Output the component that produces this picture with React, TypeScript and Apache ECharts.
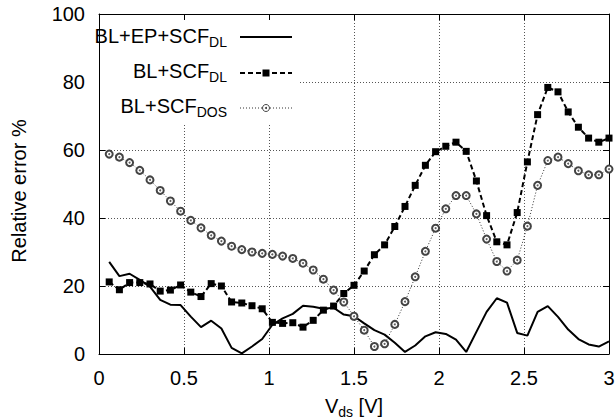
import React, { useEffect, useRef } from "react";
import * as echarts from "echarts";

const FONT = "'Liberation Sans', Arial, Helvetica, sans-serif";

// drain-source voltage sample points [V]
const vds = [
  0.06, 0.12, 0.18, 0.24, 0.3, 0.36, 0.42, 0.48, 0.54, 0.6,
  0.66, 0.72, 0.78, 0.84, 0.9, 0.96, 1.02, 1.08, 1.14, 1.2,
  1.26, 1.32, 1.38, 1.44, 1.5, 1.56, 1.62, 1.68, 1.74, 1.8,
  1.86, 1.92, 1.98, 2.04, 2.1, 2.16, 2.22, 2.28, 2.34, 2.4,
  2.46, 2.52, 2.58, 2.64, 2.7, 2.76, 2.82, 2.88, 2.94, 3.0,
];

// BL+EP+SCF_DL relative error %
const blEpScfDl = [
  27.1, 22.9, 23.6, 21.8, 19.8, 15.9, 14.5, 14.4, 11.0, 7.9,
  9.8, 7.5, 1.8, 0.2, 2.2, 4.4, 8.6, 10.5, 11.8, 14.2,
  13.9, 13.3, 13.6, 11.6, 11.1, 9.0, 7.0, 5.7, 3.3, 0.6,
  2.5, 5.2, 6.4, 5.9, 4.2, 0.6, 6.5, 12.4, 16.4, 15.1,
  6.2, 5.4, 12.4, 14.1, 10.9, 7.2, 4.4, 2.8, 2.2, 3.7,
];

// BL+SCF_DL relative error %
const blScfDl = [
  21.2, 18.9, 21.0, 21.0, 20.6, 18.5, 18.8, 20.3, 18.2, 16.9,
  20.7, 20.0, 15.3, 15.0, 14.2, 13.3, 9.3, 9.0, 9.2, 7.9,
  9.9, 12.9, 14.1, 17.8, 20.2, 24.4, 29.2, 32.1, 37.5, 43.4,
  49.6, 55.5, 59.5, 61.1, 62.3, 59.6, 50.9, 40.7, 33.0, 32.1,
  41.6, 56.5, 70.4, 78.4, 77.1, 71.2, 66.7, 63.5, 62.3, 63.5,
];

// BL+SCF_DOS relative error %
const blScfDos = [
  58.8, 57.9, 56.3, 54.0, 51.2, 48.1, 45.0, 42.0, 39.3, 37.1,
  34.9, 33.2, 31.7, 30.7, 30.0, 29.6, 29.3, 28.8, 28.1, 26.7,
  24.7, 22.0, 18.8, 15.3, 11.1, 7.0, 2.2, 3.0, 8.7, 15.4,
  22.7, 30.2, 37.0, 42.7, 46.6, 46.6, 41.2, 33.8, 27.2, 24.4,
  27.6, 37.6, 49.6, 56.9, 57.9, 56.0, 53.9, 52.7, 52.7, 54.4,
];

const seriesNames = ["BL+EP+SCF{s|DL}", "BL+SCF{s|DL}", "BL+SCF{s|DOS}"];
const xTitle = "V{s|ds} [V]";
const yTitle = "Relative error %";

const xRange = { min: 0, max: 3, interval: 0.5 };
const yRange = { min: 0, max: 100, interval: 20 };

const pairs = (ys: number[]) => vds.map((x, i) => [x, ys[i]]);

export default function App() {
  const ref = useRef<HTMLDivElement>(null);
  useEffect(() => {
    if (!ref.current) return;
    const chart = echarts.init(ref.current, null, { renderer: "svg" });

    const frameAxis = (pos: string) => ({
      type: "value",
      position: pos,
      axisLine: { show: true, onZero: false, lineStyle: { color: "#000", width: 1 } },
      axisTick: { show: true, inside: true, length: 6, lineStyle: { color: "#000", width: 1 } },
      axisLabel: { show: false },
      splitLine: { show: false },
    });

    const subRich = {
      s: { fontSize: 14, fontFamily: FONT, color: "#000", lineHeight: 16, padding: [12, 0, 0, 0] },
    };
    const legendRich = {
      s: { fontSize: 14, fontFamily: FONT, fill: "#000", lineHeight: 16, padding: [12, 0, 0, 0] },
    };

    const legendText = (txt: string, y: number) => ({
      type: "text",
      x: 227,
      y,
      z: 100,
      style: {
        text: txt,
        fill: "#000",
        fontSize: 20,
        fontFamily: FONT,
        align: "right",
        verticalAlign: "middle",
        rich: legendRich,
      },
    });

    const option: any = {
      animation: false,
      backgroundColor: "#fff",
      textStyle: { fontFamily: FONT },
      grid: { left: 99, right: 7, top: 14, bottom: 65, containLabel: false, outerBoundsMode: "none" },
      xAxis: [
        {
          type: "value",
          position: "bottom",
          ...xRange,
          axisLine: { show: true, onZero: false, lineStyle: { color: "#000", width: 1 } },
          axisTick: { show: true, inside: true, length: 6, lineStyle: { color: "#000" } },
          axisLabel: { color: "#000", fontSize: 20, fontFamily: FONT, margin: 14 },
          splitLine: { show: true, lineStyle: { color: "#555", width: 1, type: [1, 2] } },
          name: xTitle,
          nameLocation: "middle",
          nameGap: 34,
          nameTextStyle: { color: "#000", fontSize: 20, fontFamily: FONT, rich: subRich },
        },
        { ...frameAxis("top"), ...xRange },
      ],
      yAxis: [
        {
          type: "value",
          position: "left",
          ...yRange,
          axisLine: { show: true, onZero: false, lineStyle: { color: "#000", width: 1 } },
          axisTick: { show: true, inside: true, length: 6, lineStyle: { color: "#000" } },
          axisLabel: { color: "#000", fontSize: 20, fontFamily: FONT, margin: 14 },
          splitLine: { show: true, lineStyle: { color: "#555", width: 1, type: [1, 2] } },
        },
        { ...frameAxis("right"), ...yRange },
      ],
      series: [
        {
          name: seriesNames[0],
          type: "line",
          data: pairs(blEpScfDl),
          symbol: "none",
          lineStyle: { color: "#000", width: 2 },
          z: 3,
        },
        {
          name: seriesNames[1],
          type: "line",
          data: pairs(blScfDl),
          symbol: "rect",
          symbolSize: 7,
          itemStyle: { color: "#000" },
          lineStyle: { color: "#000", width: 2, type: [5, 3] },
          z: 4,
        },
        {
          name: seriesNames[2],
          type: "line",
          data: pairs(blScfDos),
          symbol: "emptyCircle",
          symbolSize: 7,
          itemStyle: { color: "#444", borderWidth: 1 },
          lineStyle: { color: "#333", width: 1, type: [1, 2] },
          z: 5,
        },
        {
          name: "dos-centre",
          type: "scatter",
          data: pairs(blScfDos),
          symbol: "circle",
          symbolSize: 2,
          itemStyle: { color: "#333" },
          silent: true,
          z: 6,
        },
      ],
      graphic: [
        {
          type: "text",
          x: 19,
          y: 191,
          rotation: Math.PI / 2,
          style: {
            text: yTitle,
            fill: "#000",
            fontSize: 20,
            fontFamily: FONT,
            align: "center",
            verticalAlign: "middle",
          },
        },
        { type: "rect", shape: { x: 100, y: 20, width: 200, height: 104 }, style: { fill: "#fff" }, z: 90 },
        legendText(seriesNames[0], 36),
        legendText(seriesNames[1], 71),
        legendText(seriesNames[2], 106),
        { type: "line", z: 100, shape: { x1: 240, y1: 37, x2: 292, y2: 37 }, style: { stroke: "#000", lineWidth: 2 } },
        { type: "line", z: 100, shape: { x1: 240, y1: 73, x2: 292, y2: 73 }, style: { stroke: "#000", lineWidth: 2, lineDash: [5, 3] } },
        { type: "rect", z: 101, shape: { x: 262.5, y: 69.5, width: 7, height: 7 }, style: { fill: "#000" } },
        { type: "line", z: 100, shape: { x1: 240, y1: 108, x2: 292, y2: 108 }, style: { stroke: "#333", lineWidth: 1, lineDash: [1, 2] } },
        { type: "circle", z: 101, shape: { cx: 266, cy: 108, r: 3.5 }, style: { fill: "#fff", stroke: "#444", lineWidth: 1 } },
        { type: "circle", z: 102, shape: { cx: 266, cy: 108, r: 1 }, style: { fill: "#333" } },
      ],
    };
    chart.setOption(option);
    return () => chart.dispose();
  }, []);
  return (
    <div
      ref={ref}
      style={{ position: "absolute", left: 0, top: 0, width: 616, height: 419 }}
    />
  );
}
